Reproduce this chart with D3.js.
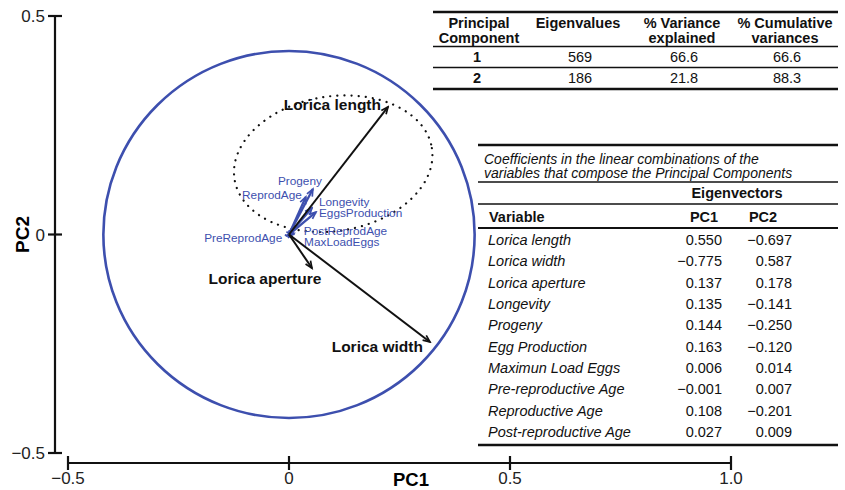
<!DOCTYPE html>
<html>
<head>
<meta charset="utf-8">
<script src="https://cdn.jsdelivr.net/npm/d3@7"></script>
<style>
  body { margin: 0; background: #fff; }
  svg { font-family: "Liberation Sans", Arial, sans-serif; }
</style>
</head>
<body>
<svg class="chart" width="845" height="490"></svg>
<script>
// biplot loadings
const arrowNames = ["Lorica length", "Lorica width", "Lorica aperture", "Progeny", "ReprodAge",
  "Longevity", "EggsProduction", "PostReprodAge", "MaxLoadEggs", "PreReprodAge"];
const arrowPC1 = [0.224, 0.319, 0.052, 0.054, 0.038, 0.052, 0.061, 0.011, 0.007, -0.004];
const arrowPC2 = [0.292, -0.246, -0.077, 0.104, 0.086, 0.061, 0.051, 0.003, -0.006, -0.003];
const arrowGroup = ["lorica", "lorica", "lorica", "life", "life", "life", "life", "life", "life", "life"];

const circleRadius = 0.42;
// dotted ellipse: centre x, centre y, semi axis x, semi axis y
const ellipseParams = [0.1, 0.162, 0.226, 0.154];

const xTicks = [-0.5, 0, 0.5, 1.0];
const yTicks = [-0.5, 0, 0.5];

// table 1
const pcHeaders = [["Principal", "Component"], ["Eigenvalues"], ["% Variance", "explained"], ["% Cumulative", "variances"]];
const pcIds = ["1", "2"];
const eigenvalues = ["569", "186"];
const varExplained = ["66.6", "21.8"];
const cumVariance = ["66.6", "88.3"];

// table 2
const caption = ["Coefficients in the linear combinations of the", "variables that compose the Principal Components"];
const variables = ["Lorica length", "Lorica width", "Lorica aperture", "Longevity", "Progeny", "Egg Production",
  "Maximun Load Eggs", "Pre-reproductive Age", "Reproductive Age", "Post-reproductive Age"];
const pc1 = ["0.550", "−0.775", "0.137", "0.135", "0.144", "0.163", "0.006", "−0.001", "0.108", "0.027"];
const pc2 = ["−0.697", "0.587", "0.178", "−0.141", "−0.250", "−0.120", "0.014", "0.007", "−0.201", "0.009"];

const svg = d3.select(".chart");
const blue = "#3d4fae";

const x = d3.scaleLinear().domain([-0.5, 1.0]).range([68, 731]);
const y = d3.scaleLinear().domain([-0.5, 0.5]).range([453, 16]);

// label placement relative to arrow tip (px)
const labelPos = {
  "Lorica length": [-7, 3, "end"],
  "Lorica width": [-7, 10, "end"],
  "Lorica aperture": [-47, 16, "middle"],
  "Progeny": [9, -4, "end"],
  "ReprodAge": [-4, 2, "end"],
  "Longevity": [7, -2, "start"],
  "EggsProduction": [3, 5, "start"],
  "PostReprodAge": [10, 2, "start"],
  "MaxLoadEggs": [12, 9, "start"],
  "PreReprodAge": [-5, 6, "end"]
};

// axes
const yAxisX = 55;
const xAxisY = 463;
const axes = svg.append("g").attr("stroke", "#111").attr("stroke-width", 2.2);
axes.append("line").attr("x1", yAxisX).attr("x2", yAxisX).attr("y1", y(0.5)).attr("y2", y(-0.5));
axes.selectAll(".yt").data(yTicks).enter().append("line")
  .attr("x1", yAxisX - 7).attr("x2", yAxisX + 7)
  .attr("y1", (d) => y(d)).attr("y2", (d) => y(d));
axes.append("line").attr("x1", x(-0.5)).attr("x2", x(1.0)).attr("y1", xAxisY).attr("y2", xAxisY);
axes.selectAll(".xt").data(xTicks).enter().append("line")
  .attr("x1", (d) => x(d)).attr("x2", (d) => x(d))
  .attr("y1", xAxisY - 7).attr("y2", xAxisY + 7);

const fmt = (d) => (d === 0 ? "0" : (d < 0 ? "−" : "") + (Math.abs(d) === 1 ? "1.0" : String(Math.abs(d))));
svg.append("g").selectAll("text").data(yTicks).enter().append("text")
  .attr("x", 45).attr("y", (d) => y(d) + 6)
  .attr("text-anchor", "end").attr("font-size", 17).attr("fill", "#222")
  .text(fmt);
svg.append("g").selectAll("text").data(xTicks).enter().append("text")
  .attr("x", (d) => x(d)).attr("y", 484)
  .attr("text-anchor", "middle").attr("font-size", 17).attr("fill", "#222")
  .text(fmt);

svg.append("text").attr("x", 411).attr("y", 486).attr("text-anchor", "middle")
  .attr("font-size", 18.5).attr("font-weight", "bold").text("PC1");
svg.append("text").attr("transform", `translate(29,${y(0)}) rotate(-90)`).attr("text-anchor", "middle")
  .attr("font-size", 19).attr("font-weight", "bold").text("PC2");

// correlation circle
svg.append("ellipse")
  .attr("cx", x(0)).attr("cy", y(0))
  .attr("rx", x(circleRadius) - x(0)).attr("ry", y(0) - y(circleRadius))
  .attr("fill", "none").attr("stroke", blue).attr("stroke-width", 2.6);

// dotted ellipse
const [ecx, ecy, eax, eay] = ellipseParams;
svg.append("ellipse")
  .attr("cx", x(ecx)).attr("cy", y(ecy))
  .attr("rx", x(eax) - x(0)).attr("ry", y(0) - y(eay))
  .attr("transform", `rotate(-9,${x(ecx)},${y(ecy)})`)
  .attr("fill", "none").attr("stroke", "#111").attr("stroke-width", 2.2)
  .attr("stroke-linecap", "round").attr("stroke-dasharray", "0.1,7");

// arrow heads
const defs = svg.append("defs");
[["head-lorica", "#111"], ["head-life", blue]].forEach(([id, c]) => {
  defs.append("marker").attr("id", id)
    .attr("viewBox", "-10 -6 12 12").attr("refX", 0).attr("refY", 0)
    .attr("markerWidth", 12).attr("markerHeight", 12)
    .attr("markerUnits", "userSpaceOnUse").attr("orient", "auto")
    .append("path").attr("d", "M-7,-3L0,0L-7,3")
    .attr("fill", "none").attr("stroke", c).attr("stroke-width", 1.7);
});

const arrows = arrowNames.map((name, i) => ({ name, pc1: arrowPC1[i], pc2: arrowPC2[i], group: arrowGroup[i] }));
const sorted = arrows.slice().sort((a, b) => (a.group === "lorica") - (b.group === "lorica"));

svg.append("g").selectAll("line").data(sorted).enter().append("line")
  .attr("x1", x(0)).attr("y1", y(0))
  .attr("x2", (d) => x(d.pc1)).attr("y2", (d) => y(d.pc2))
  .attr("stroke", (d) => (d.group === "lorica" ? "#111" : blue))
  .attr("stroke-width", (d) => (d.group === "lorica" ? 2 : 2.3))
  .attr("marker-end", (d) => `url(#head-${d.group})`);

svg.append("g").selectAll("text").data(arrows).enter().append("text")
  .attr("x", (d) => x(d.pc1) + labelPos[d.name][0])
  .attr("y", (d) => y(d.pc2) + labelPos[d.name][1])
  .attr("text-anchor", (d) => labelPos[d.name][2])
  .attr("font-size", (d) => (d.group === "lorica" ? 15.5 : 11.8))
  .attr("font-weight", (d) => (d.group === "lorica" ? "bold" : "normal"))
  .attr("fill", (d) => (d.group === "lorica" ? "#111" : blue))
  .text((d) => d.name);

// table 1
const t1 = svg.append("g").attr("font-size", 14.5).attr("fill", "#111");
const t1Left = 433, t1Right = 838;
const colX = [479, 578, 682, 785];
const hline = (g, y0, w, x0 = t1Left, x1 = t1Right) =>
  g.append("line").attr("x1", x0).attr("x2", x1).attr("y1", y0).attr("y2", y0)
    .attr("stroke", "#111").attr("stroke-width", w);
hline(t1, 12, 2.6);
hline(t1, 46.5, 1.3);
hline(t1, 67.5, 1.3);
hline(t1, 89, 2.6);
pcHeaders.forEach((lines, i) => {
  lines.forEach((s, j) => {
    t1.append("text").attr("x", colX[i]).attr("y", 28 + j * 14.5)
      .attr("text-anchor", "middle").attr("font-weight", "bold").text(s);
  });
});
const t1Rows = pcIds.map((id, i) => [id, eigenvalues[i], varExplained[i], cumVariance[i]]);
t1.selectAll(".row").data(t1Rows).enter().append("g")
  .attr("transform", (d, i) => `translate(0,${62 + i * 21})`)
  .selectAll("text").data((d) => d).enter().append("text")
  .attr("x", (d, i) => colX[i] + (i === 0 ? -2 : 2))
  .attr("text-anchor", "middle")
  .attr("font-weight", (d, i) => (i === 0 ? "bold" : "normal"))
  .text((d) => d);

// table 2
const t2 = svg.append("g").attr("font-size", 14.5).attr("fill", "#111");
const t2Left = 478;
hline(t2, 145, 2.6, t2Left);
hline(t2, 182, 1.3, t2Left);
hline(t2, 204, 1.3, t2Left);
hline(t2, 228, 2, t2Left);
hline(t2, 445, 2.6, t2Left);
caption.forEach((s, j) => {
  t2.append("text").attr("x", 484).attr("y", 164 + j * 14)
    .attr("font-size", 14).attr("font-style", "italic").text(s);
});
t2.append("text").attr("x", 737).attr("y", 198).attr("text-anchor", "middle")
  .attr("font-weight", "bold").text("Eigenvectors");
t2.append("text").attr("x", 489).attr("y", 222).attr("font-weight", "bold").text("Variable");
t2.append("text").attr("x", 704).attr("y", 222).attr("text-anchor", "middle").attr("font-weight", "bold").text("PC1");
t2.append("text").attr("x", 763).attr("y", 222).attr("text-anchor", "middle").attr("font-weight", "bold").text("PC2");

const rowY = d3.scalePoint().domain(variables).range([245, 437]);
t2.append("g").selectAll("text").data(variables).enter().append("text")
  .attr("x", 488).attr("y", (d) => rowY(d)).attr("font-style", "italic").text((d) => d);
t2.append("g").selectAll("text").data(variables).enter().append("text")
  .attr("x", 722).attr("y", (d) => rowY(d)).attr("text-anchor", "end").text((d, i) => pc1[i]);
t2.append("g").selectAll("text").data(variables).enter().append("text")
  .attr("x", 792).attr("y", (d) => rowY(d)).attr("text-anchor", "end").text((d, i) => pc2[i]);
</script>
</body>
</html>
